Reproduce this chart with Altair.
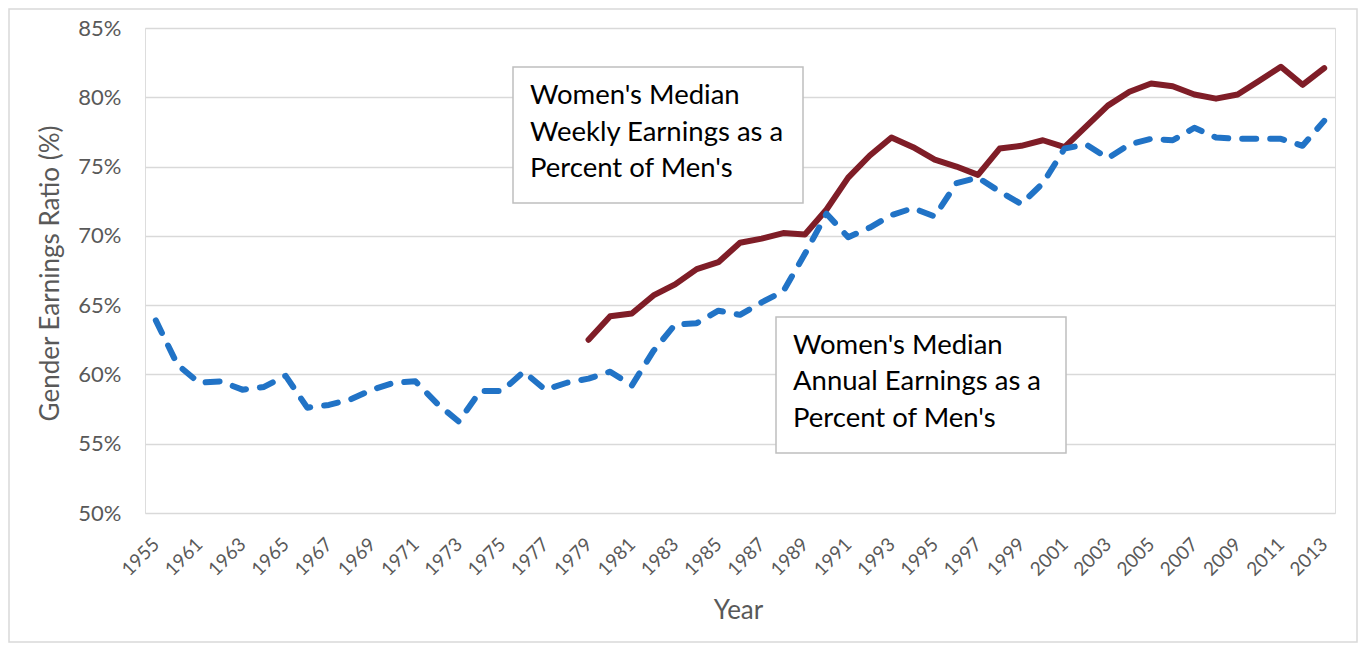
import altair as alt
import pandas as pd

# Categories (Excel-style category axis: 1955 followed by 1960..2013)
years = ["1955"] + [str(y) for y in range(1960, 2014)]

# Women's median annual earnings as % of men's (1955, 1960-2013)
annual = [63.9,
          60.7, 59.4, 59.5, 58.9, 59.1, 59.9, 57.6, 57.8, 58.2, 58.9,
          59.4, 59.5, 57.9, 56.6, 58.8, 58.8, 60.2, 58.9, 59.4, 59.7,
          60.2, 59.2, 61.7, 63.6, 63.7, 64.6, 64.3, 65.2, 66.0, 68.7,
          71.6, 69.9, 70.6, 71.5, 72.0, 71.4, 73.8, 74.2, 73.2, 72.3,
          73.8, 76.3, 76.6, 75.6, 76.6, 77.0, 76.9, 77.8, 77.1, 77.0,
          77.0, 77.0, 76.5, 78.3]

# Women's median weekly earnings as % of men's (1979-2013)
weekly_years = [str(y) for y in range(1979, 2014)]
weekly = [62.5, 64.2, 64.4, 65.7, 66.5, 67.6, 68.1, 69.5, 69.8, 70.2,
          70.1, 71.9, 74.2, 75.8, 77.1, 76.4, 75.5, 75.0, 74.4, 76.3,
          76.5, 76.9, 76.4, 77.9, 79.4, 80.4, 81.0, 80.8, 80.2, 79.9,
          80.2, 81.2, 82.2, 80.9, 82.1]

tick_years = years[::2]
y_ticks = [50, 55, 60, 65, 70, 75, 80, 85]

label_weekly = ["Women's Median", "Weekly Earnings as a", "Percent of Men's"]
label_annual = ["Women's Median", "Annual Earnings as a", "Percent of Men's"]

df_annual = pd.DataFrame({"Year": years, "Value": annual})
df_weekly = pd.DataFrame({"Year": weekly_years, "Value": weekly})
one_row = pd.DataFrame({"k": [0]})

FONT = "Lato"
GRAY = "#595959"
RED = "#7f1d27"
BLUE = "#2173c6"

x_enc = alt.X(
    "Year:N", sort=years,
    scale=alt.Scale(type="point", padding=0.5),
    axis=alt.Axis(
        values=tick_years, labelAngle=315, labelAlign="right", labelBaseline="middle",
        labelPadding=28, labelFontSize=19, labelColor=GRAY, labelFont=FONT,
        ticks=False, tickSize=0, domain=False, grid=False,
        title="Year", titleFont=FONT, titleFontSize=26, titleFontWeight="normal",
        titleColor=GRAY, titleX=593, titleY=105, titleAlign="center",
        titleBaseline="alphabetic", labelOverlap=False,
    ),
)
y_enc = alt.Y(
    "Value:Q",
    scale=alt.Scale(domain=[50, 85], nice=False, zero=False),
    axis=alt.Axis(
        values=y_ticks, labelExpr="datum.value + '%'", labelFontSize=22,
        labelColor=GRAY, labelFont=FONT, labelPadding=24, ticks=False, tickSize=0,
        domain=False, grid=True, gridColor="#d9d9d9", gridWidth=1.5,
        title="Gender Earnings Ratio (%)", titleFont=FONT, titleFontSize=26,
        titleFontWeight="normal", titleColor=GRAY, titleAngle=270,
        titleX=-95, titleY=245, titleAlign="center", titleBaseline="middle",
    ),
)

weekly_line = alt.Chart(df_weekly).mark_line(
    color=RED, strokeWidth=6, strokeJoin="round", strokeCap="round"
).encode(x=x_enc, y=y_enc)

annual_line = alt.Chart(df_annual).mark_line(
    color=BLUE, strokeWidth=6, strokeDash=[14, 14], strokeCap="round", strokeJoin="round"
).encode(x=x_enc, y=y_enc)

frame = alt.Chart(one_row).mark_rect(
    fill=None, stroke="#d9d9d9", strokeWidth=1.5
).encode(x=alt.value(-136), x2=alt.value(1212), y=alt.value(-19), y2=alt.value(614))

box1 = alt.Chart(one_row).mark_rect(
    fill="white", stroke="#bfbfbf", strokeWidth=1.5
).encode(x=alt.value(368), x2=alt.value(658), y=alt.value(39), y2=alt.value(175))
text1 = alt.Chart(one_row).mark_text(
    text=label_weekly, font=FONT, fontSize=27.5, color="black",
    align="left", baseline="alphabetic", lineHeight=36.5
).encode(x=alt.value(385), y=alt.value(76))

box2 = alt.Chart(one_row).mark_rect(
    fill="white", stroke="#bfbfbf", strokeWidth=1.5
).encode(x=alt.value(631), x2=alt.value(921), y=alt.value(289), y2=alt.value(425))
text2 = alt.Chart(one_row).mark_text(
    text=label_annual, font=FONT, fontSize=27.5, color="black",
    align="left", baseline="alphabetic", lineHeight=36.5
).encode(x=alt.value(648), y=alt.value(325.5))

chart = alt.layer(
    frame, weekly_line, annual_line, box1, text1, box2, text2
).properties(
    width=1190, height=485,
    autosize=alt.AutoSizeParams(type="none"),
    padding={"left": 137, "top": 20, "right": 24, "bottom": 131},
).configure_view(stroke=None).configure(background="white")

chart.save("out.html", embed_options={"renderer": "svg", "actions": False})
